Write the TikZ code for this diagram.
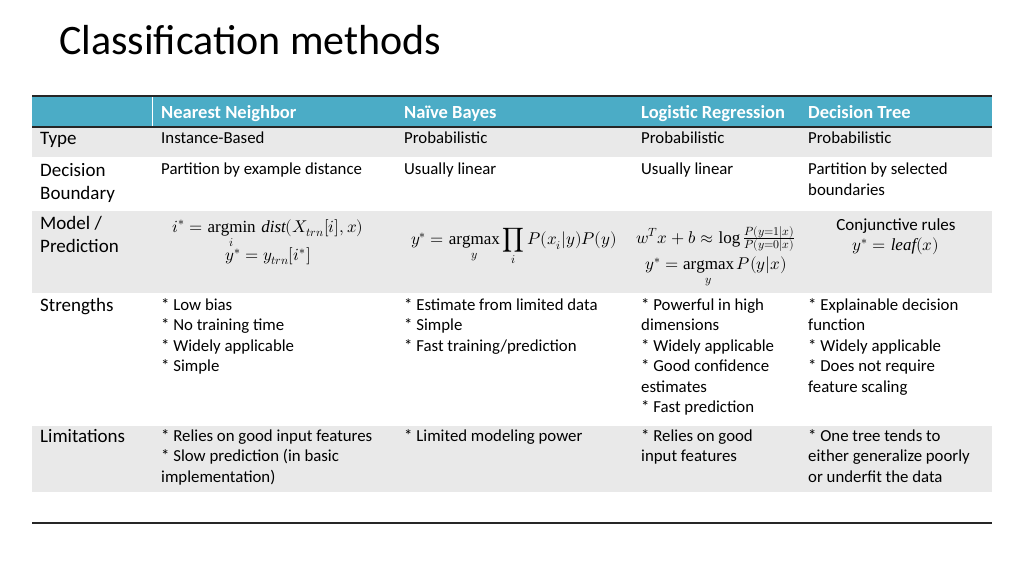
\documentclass[tikz,border=0pt]{standalone}
\usepackage{fontspec}
\setmainfont{Carlito}
\usepackage{amsmath}
\usepackage{unicode-math}
\setmathfont{Latin Modern Math}
\setmathrm{Liberation Serif}
\DeclareMathOperator*{\amin}{argmin}
\DeclareMathOperator*{\amax}{argmax}
\begin{document}
\begin{tikzpicture}[x=1pt,y=-1pt,
  cell/.style={anchor=north west,inner sep=0pt,align=left,font=\fontsize{16.8}{20.5}\selectfont},
  lab/.style={anchor=north west,inner sep=0pt,align=left,font=\fontsize{19}{23.5}\selectfont},
  hd/.style={anchor=base west,inner sep=0pt,text=white,font=\fontsize{18.5}{21}\selectfont\bfseries},
  mth/.style={inner sep=0pt,align=center,font=\fontsize{17}{20}\selectfont}]
\definecolor{hblue}{HTML}{4BACC6}
\definecolor{rgray}{HTML}{E9E9E9}
\useasboundingbox (0,0) rectangle (1024,576);
\fill[white] (0,0) rectangle (1024,576);
\node[anchor=west,inner sep=0pt,font=\fontsize{42}{46}\selectfont] (title) at (59,40) {Classification methods};
% header
\fill[hblue] (32,97) rectangle (992,127);
\draw[white,line width=1pt] (152.5,97) -- (152.5,127);
\draw[black!85,line width=2pt] (32,96) -- (992,96);
\draw[black!85,line width=1.5pt] (32,127) -- (992,127);
\foreach \y/\h in {128/157,211/293,426/492} \fill[rgray] (32,\y) rectangle (992,\h);
\draw[black!85,line width=2pt] (32,523) -- (992,523);
\node[hd] (h1) at (161,118) {Nearest Neighbor};
\node[hd] (h2) at (404,118) {Naïve Bayes};
\node[hd] (h3) at (641,118) {Logistic Regression};
\node[hd] (h4) at (808,118) {Decision Tree};
% row labels
\node[lab] (l1) at (40,132) {Type};
\node[lab] (l2) at (40,163) {Decision\\Boundary};
\node[lab] (l3) at (40,216) {Model /\\Prediction};
\node[lab] (l4) at (40,298) {Strengths};
\node[lab] (l5) at (40,429) {Limitations};
% type
\node[cell] (t1) at (161,132) {Instance-Based};
\node[cell] (t2) at (404,132) {Probabilistic};
\node[cell] (t3) at (641,132) {Probabilistic};
\node[cell] (t4) at (808,132) {Probabilistic};
% boundary
\node[cell] (b1) at (161,163) {Partition by example distance};
\node[cell] (b2) at (404,163) {Usually linear};
\node[cell] (b3) at (641,163) {Usually linear};
\node[cell] (b4) at (808,163) {Partition by selected\\boundaries};
% model
\node[mth] (m1) at (268,234) {$\displaystyle i^{*}=\amin_{i}\,\mathit{dist}(X_{trn}[i],x)$};
\node[mth] (m1b) at (268,256) {$y^{*}=y_{trn}[i^{*}]$};
\node[mth] (m2) at (514,247) {$\displaystyle y^{*}=\amax_{y}\prod_{i}P(x_i|y)P(y)$};
\node[mth] (m3) at (716,239) {$w^{T}x+b\approx\log\frac{P(y=1|x)}{P(y=0|x)}$};
\node[mth] (m3b) at (716,272) {$\displaystyle y^{*}=\amax_{y}P(y|x)$};
\node[mth] (m4) at (896,237) {$\text{Conjunctive rules}$\\$y^{*}=\mathit{leaf}(x)$};
% strengths
\node[cell] (s1) at (161,298) {* Low bias\\* No training time\\* Widely applicable\\* Simple};
\node[cell] (s2) at (404,298) {* Estimate from limited data\\* Simple\\* Fast training/prediction};
\node[cell] (s3) at (641,298) {* Powerful in high\\dimensions\\* Widely applicable\\* Good confidence\\estimates\\* Fast prediction};
\node[cell] (s4) at (808,298) {* Explainable decision\\function\\* Widely applicable\\* Does not require\\feature scaling};
% limitations
\node[cell] (x1) at (161,429) {* Relies on good input features\\* Slow prediction (in basic\\implementation)};
\node[cell] (x2) at (404,429) {* Limited modeling power};
\node[cell] (x3) at (641,429) {* Relies on good\\input features};
\node[cell] (x4) at (808,429) {* One tree tends to\\either generalize poorly\\or underfit the data};
\end{tikzpicture}
\end{document}
